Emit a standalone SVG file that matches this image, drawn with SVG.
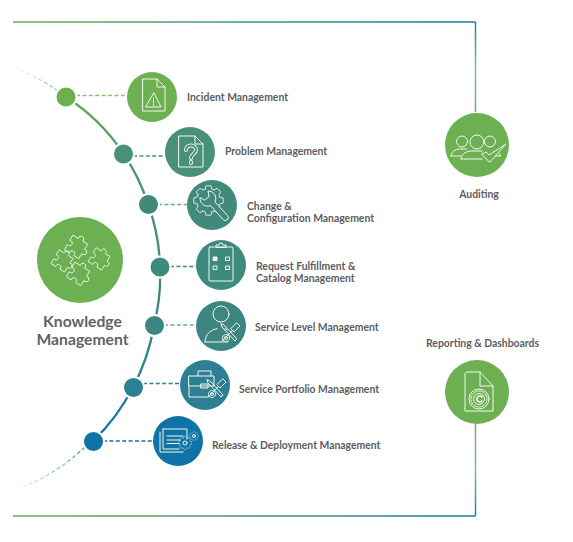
<svg xmlns="http://www.w3.org/2000/svg" xmlns:xlink="http://www.w3.org/1999/xlink" width="573" height="542" viewBox="0 0 573 542">
<style>
text{font-family:Lato,"Open Sans","Liberation Sans",sans-serif;font-weight:700;font-size:10.4px;fill:#5c5d5f}
.ttl{font-size:15.7px;text-anchor:middle;fill:#616264}
.ic,.ic *{fill:none;stroke:#f2f8ef;stroke-width:1;stroke-linejoin:round;stroke-linecap:round}
.dash{fill:none;stroke-width:1.3;stroke-dasharray:4 2.4}
.dot{stroke:#fff;stroke-width:2}
</style>
<defs>
<linearGradient id="gH" gradientUnits="userSpaceOnUse" x1="13" y1="0" x2="476" y2="0"><stop offset="0" stop-color="#6ab04f"/><stop offset="1" stop-color="#1a7aa6"/></linearGradient>
<linearGradient id="gT" gradientUnits="userSpaceOnUse" x1="0" y1="22" x2="0" y2="112"><stop offset="0" stop-color="#1a7fa8"/><stop offset=".5" stop-color="#7fb8b0"/><stop offset="1" stop-color="#6fb35c"/></linearGradient>
<linearGradient id="gB" gradientUnits="userSpaceOnUse" x1="0" y1="424" x2="0" y2="516"><stop offset="0" stop-color="#6fb35c"/><stop offset=".5" stop-color="#7fb8b0"/><stop offset="1" stop-color="#1a7fa8"/></linearGradient>
<linearGradient id="gA" gradientUnits="userSpaceOnUse" x1="0" y1="97" x2="0" y2="441"><stop offset="0" stop-color="#62a85a"/><stop offset=".3" stop-color="#45907a"/><stop offset=".55" stop-color="#3f8a7e"/><stop offset=".85" stop-color="#2b7f95"/><stop offset="1" stop-color="#0f74a5"/></linearGradient>
<linearGradient id="gF1" gradientUnits="userSpaceOnUse" x1="15" y1="68" x2="58" y2="92"><stop offset="0" stop-color="#6ab04f" stop-opacity="0"/><stop offset="1" stop-color="#6ab04f" stop-opacity=".75"/></linearGradient>
<linearGradient id="gF2" gradientUnits="userSpaceOnUse" x1="85" y1="447" x2="15" y2="490"><stop offset="0" stop-color="#0f74a5" stop-opacity=".75"/><stop offset="1" stop-color="#0f74a5" stop-opacity="0"/></linearGradient>
<g id="gear">
<path id="ts" d="M-4-13.5L-3-17.5H3L4-13.5A14 14 0 0 1 6.72-12.38"/>
<use href="#ts" transform="rotate(45)"/><use href="#ts" transform="rotate(90)"/><use href="#ts" transform="rotate(135)"/><use href="#ts" transform="rotate(180)"/><use href="#ts" transform="rotate(225)"/><use href="#ts" transform="rotate(270)"/><use href="#ts" transform="rotate(315)"/>
</g>
<path id="piece" d="M-10-10h7a3.2 3.2 0 1 1 6 0h7v7a3.2 3.2 0 1 1 0 6v7h-7a3.2 3.2 0 1 0-6 0h-7v-7a3.2 3.2 0 1 0 0-6z"/>
<g id="tools"><path d="M-8 8L3-3M7-10L10-7L4-1L1-4zM-6-8L7 6L5 8L-8-6L-9-9z"/><circle cx="-4" cy="5" r="3.500" stroke-dasharray="1.200 .8"/><circle cx="-4" cy="5" r="1.500"/></g>
</defs>

<g id="connectors">
<path d="M13 22H475.5" fill="none" stroke="url(#gH)" stroke-width="1.5"/>
<path d="M475.5 22V112" fill="none" stroke="url(#gT)" stroke-width="1.5"/>
<path d="M13 516H475.5" fill="none" stroke="url(#gH)" stroke-width="1.5"/>
<path d="M475.5 424V516" fill="none" stroke="url(#gB)" stroke-width="1.5"/>
<path d="M15 68A195 195 0 0 1 58 91" class="dash" stroke="url(#gF1)" stroke-width="1.5"/>
<path d="M66 97A195 195 0 0 1 123 153A195 195 0 0 1 148 204A195 195 0 0 1 160 267A195 195 0 0 1 154 325A195 195 0 0 1 133 387A195 195 0 0 1 93 441" fill="none" stroke="url(#gA)" stroke-width="2.300"/>
<path d="M85 447A195 195 0 0 1 15 490" class="dash" stroke="url(#gF2)" stroke-width="1.5"/>
<path d="M76 95.500H127" class="dash" stroke="#8cc17a"/>
<path d="M133 156H165" class="dash" stroke="#48907a"/>
<path d="M158 204.500H187" class="dash" stroke="#6fa896"/>
<path d="M170 266.500H196" class="dash" stroke="#3f8a7e"/>
<path d="M164 325H196" class="dash" stroke="#6fa89c"/>
<path d="M143 383.500H180" class="dash" stroke="#2d7f93"/>
<path d="M103 441H153" class="dash" stroke="#0f74a5"/>
</g>

<g id="dots">
<circle class="dot" cx="66" cy="97" r="10.500" fill="#6cb050"/>
<circle class="dot" cx="123.500" cy="154" r="10.500" fill="#48907a"/>
<circle class="dot" cx="148.500" cy="204.500" r="10.500" fill="#41897b"/>
<circle class="dot" cx="160" cy="267" r="10.500" fill="#3f8a7e"/>
<circle class="dot" cx="154.500" cy="325.500" r="10.500" fill="#3d8580"/>
<circle class="dot" cx="133.500" cy="387.500" r="10.500" fill="#2d7f93"/>
<circle class="dot" cx="93.500" cy="441.500" r="10.500" fill="#0f74a5"/>
</g>

<g id="knowledge">
<circle cx="80" cy="260" r="43" fill="#6cb052"/>
<g class="ic">
<use href="#piece" transform="translate(76 247) rotate(32) scale(.85)"/>
<use href="#piece" transform="translate(99 259) rotate(32) scale(.8)"/>
<use href="#piece" transform="translate(62 261) rotate(32) scale(.8)"/>
<use href="#piece" transform="translate(78 274) rotate(32) scale(.85)"/>
</g>
<text class="ttl" x="82.500" y="326.500">Knowledge</text>
<text class="ttl" x="82.500" y="344.500">Management</text>
</g>

<g id="incident" transform="translate(152 97)">
<circle r="25" fill="#6cb052"/>
<g class="ic"><path d="M-9-18H5L13-10V14H-9zM5-18V-10H13"/><path d="M2-4L9 10H-6z"/><path d="M1.500 1V6M1.500 7.500V8.500"/></g>
<text x="35" y="3.500">Incident Management</text>
</g>

<g id="problem" transform="translate(190 152)">
<circle r="25" fill="#48907a"/>
<g class="ic"><path d="M-11-16H5L13-8V15H-11zM5-16V-8H13"/>
<path d="M-4-2C-4-8 6-8 6-2C6 2 1 2 1 6M1 10V11" style="stroke-width:4"/>
<path d="M-4-2C-4-8 6-8 6-2C6 2 1 2 1 6M1 10V11" style="stroke:#48907a;stroke-width:2"/></g>
<text x="35" y="2.800">Problem Management</text>
</g>

<g id="change" transform="translate(212 205)">
<circle r="25" fill="#41897b"/>
<g class="ic"><use href="#gear" transform="translate(-3.500 -4.500) scale(.84)"/>
<path d="M-12-7A7.500 7.500 0 0 0-1.500 .5L11 14.500A3 3 0 0 0 15.500 10.500L3-3A7.500 7.500 0 0 0-4-14L-3-8.500L-7-5Z" style="fill:#41897b"/></g>
<text x="35" y="4.500">Change &amp;</text>
<text x="35" y="16.500">Configuration Management</text>
</g>

<g id="request" transform="translate(221 265)">
<circle r="25" fill="#3f8a7e"/>
<g class="ic"><rect x="-12" y="-18" width="24" height="34" rx="1"/><path d="M-5-18V-20H-2L-1-22H1L2-20H5V-18z"/>
<rect x="-7.500" y="-8" width="3.500" height="3.500" style="fill:#f2f8ef"/><rect x="5" y="-8" width="3.500" height="3.500"/><rect x="-7.500" y="1" width="3.500" height="3.500"/><rect x="5" y="1" width="3.500" height="3.500"/></g>
<text x="35" y="5">Request Fulfillment &amp;</text>
<text x="35" y="17">Catalog Management</text>
</g>

<g id="service-level" transform="translate(221 326)">
<circle r="25" fill="#3d8580"/>
<g class="ic"><circle cy="-12" r="8"/><path d="M-16 16C-16 7-9 4-4 2.500M-16 16H7M4 2.500L6 4"/><use href="#tools" transform="translate(9 7)"/></g>
<text x="34" y="4.500">Service Level Management</text>
</g>

<g id="portfolio" transform="translate(205 385)">
<circle r="25" fill="#2d7f93"/>
<g class="ic"><path d="M-16-9H9V1H-16zM-16 1V12H3M-7-9V-14H6V-9"/><rect x="-4" y="-1" width="7" height="4"/><use href="#tools" transform="translate(11 4)"/></g>
<text x="34" y="7.500">Service Portfolio Management</text>
</g>

<g id="release" transform="translate(178 441)">
<circle r="25" fill="#0f74a5"/>
<g class="ic"><path d="M-18-9V11H5M-15-12H9V-2M-15-12V8H1M-11-5H5M-11-1H2M-11 2.500H1"/><use href="#gear" transform="translate(7 2) scale(.38)"/><circle cx="7" cy="2" r="2"/><use href="#gear" transform="translate(16-5) scale(.26)"/><circle cx="16" cy="-5" r="1.500"/></g>
<text x="34" y="7.500">Release &amp; Deployment Management</text>
</g>

<g id="auditing" transform="translate(477 145)">
<circle r="32" fill="#6cb052"/>
<g class="ic"><circle cx="-15" cy="-3.500" r="5.500"/><circle cy="-3" r="7"/><circle cx="13" cy="-3.500" r="5.500"/>
<path d="M-26 11C-25 5-20 4-16 4H-10M-26 11H-16M-16 14C-15 8-10 6-5 6H5M-16 14H5M20 5C21 8 23 9 24 11H16"/>
<path d="M5 9L9 7L12 10L29-1L13 17z" style="fill:#6cb052"/></g>
<text x="2" y="52.500" style="text-anchor:middle">Auditing</text>
</g>

<g id="reporting" transform="translate(477 392)">
<circle r="32" fill="#6cb052"/>
<g class="ic"><path d="M-10-20H3L16-6V19H-12V-18zM3-20V-6H16"/><circle cx="2" cy="7" r="10"/><circle cx="2" cy="7" r="8" stroke-dasharray="1.500 1"/><circle cx="2" cy="7" r="5.500"/><path d="M5 5A3 3 0 1 0 5 9" style="stroke-width:1.600"/></g>
<text x="-51" y="-45">Reporting &amp; Dashboards</text>
</g>
</svg>
